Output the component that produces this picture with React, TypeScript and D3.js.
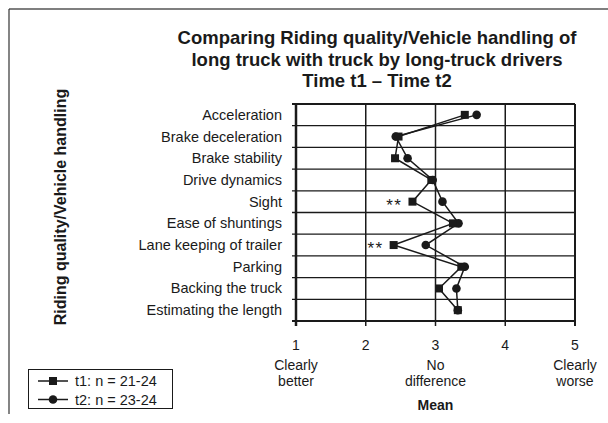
import React from "react";
import * as d3 from "d3";

const categories = [
  "Acceleration",
  "Brake deceleration",
  "Brake stability",
  "Drive dynamics",
  "Sight",
  "Ease of shuntings",
  "Lane keeping of trailer",
  "Parking",
  "Backing the truck",
  "Estimating the length",
];
const t1Values = [3.42, 2.47, 2.42, 2.94, 2.67, 3.25, 2.4, 3.37, 3.05, 3.32];
const t2Values = [3.59, 2.43, 2.6, 2.96, 3.1, 3.33, 2.86, 3.42, 3.3, 3.32];
const significant = ["Sight", "Lane keeping of trailer"];
const xTicks = [1, 2, 3, 4, 5];
const xTickNotes: Record<number, string[]> = {
  1: ["Clearly", "better"],
  3: ["No", "difference"],
  5: ["Clearly", "worse"],
};
const legendLabels = ["t1: n = 21-24", "t2: n = 23-24"];
const titleLines = [
  "Comparing Riding quality/Vehicle handling of",
  "long truck with truck by long-truck drivers",
  "Time t1 \u2013 Time t2",
];

const W = 608;
const H = 423;
const font = "Arial, 'Liberation Sans', sans-serif";
const ink = "#1a1a1a";

export default function App() {
  const left = 296;
  const right = 575;
  const top = 104;
  const bottom = 321;
  const x = d3.scaleLinear().domain([1, 5]).range([left, right]);
  const y = d3.scaleBand<string>().domain(categories).range([top, bottom]);
  const cy = (c: string) => (y(c) as number) + y.bandwidth() / 2;

  const line = d3
    .line<[string, number]>()
    .x((d) => x(d[1]))
    .y((d) => cy(d[0]));
  const t1 = categories.map((c, i) => [c, t1Values[i]] as [string, number]);
  const t2 = categories.map((c, i) => [c, t2Values[i]] as [string, number]);

  const bounds = [top, ...categories.map((c) => (y(c) as number) + y.bandwidth())];

  return (
    <svg
      width={W}
      height={H}
      style={{ position: "absolute", left: 0, top: 0, background: "#fff" }}
      fontFamily={font}
    >
      <rect x={0} y={0} width={W} height={H} fill="#fff" />
      {/* frame */}
      <line x1={9} x2={W} y1={9} y2={9} stroke="#555" strokeWidth={1.5} />
      <line x1={9} x2={9} y1={9} y2={414} stroke="#333" strokeWidth={1.2} />

      {/* title */}
      {titleLines.map((t, i) => (
        <text
          key={i}
          x={377}
          y={44 + i * 21.5}
          textAnchor="middle"
          fontSize={18.5}
          fontWeight="bold"
          fill={ink}
        >
          {t}
        </text>
      ))}

      {/* y axis title */}
      <text
        transform={`translate(66,207) rotate(-90)`}
        textAnchor="middle"
        fontSize={16}
        fontWeight="bold"
        fill={ink}
      >
        Riding quality/Vehicle handling
      </text>

      {/* horizontal gridlines */}
      {bounds.map((b, i) => (
        <line key={i} x1={left - 4} x2={right} y1={b} y2={b} stroke={ink} strokeWidth={i === 0 || i === bounds.length - 1 ? 2 : 1.3} />
      ))}
      {/* vertical gridlines */}
      {xTicks.map((t) => (
        <line
          key={t}
          x1={x(t)}
          x2={x(t)}
          y1={top}
          y2={bottom + 5}
          stroke={ink}
          strokeWidth={t === 1 ? 2.5 : t === 5 ? 2 : 1.5}
        />
      ))}

      {/* category labels */}
      {categories.map((c) => (
        <text key={c} x={282} y={cy(c) + 5} textAnchor="end" fontSize={14.5} fill={ink}>
          {c}
        </text>
      ))}

      {/* x tick labels */}
      {xTicks.map((t) => (
        <g key={t}>
          <text x={x(t)} y={350} textAnchor="middle" fontSize={14} fill={ink}>
            {t}
          </text>
          {(xTickNotes[t] || []).map((s, i) => (
            <text key={i} x={x(t)} y={370 + i * 16} textAnchor="middle" fontSize={14} fill={ink}>
              {s}
            </text>
          ))}
        </g>
      ))}
      <text x={x(3)} y={410} textAnchor="middle" fontSize={14} fontWeight="bold" fill={ink}>
        Mean
      </text>

      {/* lines */}
      <path d={line(t1) as string} fill="none" stroke={ink} strokeWidth={1.5} />
      <path d={line(t2) as string} fill="none" stroke={ink} strokeWidth={1.5} />
      {t2.map(([c, v]) => (
        <circle key={"c" + c} cx={x(v)} cy={cy(c)} r={4.3} fill={ink} />
      ))}
      {t1.map(([c, v]) => (
        <rect key={"s" + c} x={x(v) - 4} y={cy(c) - 4} width={8} height={8} fill={ink} />
      ))}

      {/* significance markers */}
      {t1
        .filter(([c]) => significant.includes(c))
        .map(([c, v]) => (
          <text key={"sig" + c} x={x(v) - 10} y={cy(c) + 9} textAnchor="end" fontSize={17} letterSpacing={1.5} fill={ink}>
            **
          </text>
        ))}

      {/* legend */}
      <rect x={28.5} y={369.5} width={144} height={39} fill="#fff" stroke={ink} strokeWidth={1} />
      {legendLabels.map((l, i) => (
        <g key={l}>
          <line x1={38} x2={68} y1={381 + i * 18.5} y2={381 + i * 18.5} stroke={ink} strokeWidth={1.5} />
          {i === 0 ? (
            <rect x={49} y={377 + i * 18.5} width={8} height={8} fill={ink} />
          ) : (
            <circle cx={53} cy={381 + i * 18.5} r={4.3} fill={ink} />
          )}
          <text x={75} y={386 + i * 18.5} fontSize={14.5} fill={ink}>
            {l}
          </text>
        </g>
      ))}
    </svg>
  );
}
